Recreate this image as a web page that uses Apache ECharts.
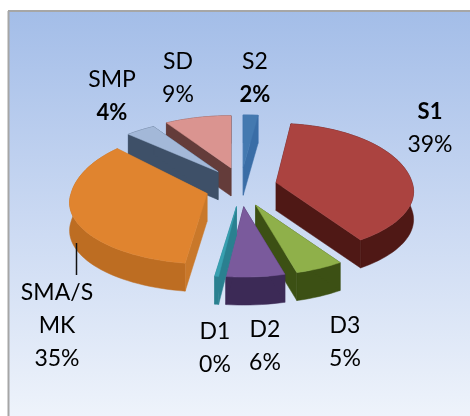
<!DOCTYPE html>
<html><head><meta charset="utf-8">
<style>html,body{margin:0;padding:0;background:#fff}#c{width:470px;height:416px;filter:blur(0.65px)}</style>
<script src="https://cdn.jsdelivr.net/npm/echarts@6/dist/echarts.min.js"></script>
</head><body><div id="c"></div>
<script>
const categories = ['S2','S1','D3','D2','D1','SMA/SMK','SMP','SD'];
const values = [2,39,5,6,0.4,35,4,9];
const topColors = ['#4479b0','#ab4340','#8fb04a','#7a5a9c','#38a0b0','#e0842f','#a3b8d8','#da9490'];
const wallColors = ['#3a6da6','#4f1815','#3c5014','#3c2a56','#2a8090','#bd6d22','#3e5068','#643c3a'];
const cutColors = ['#3a6da6','#4f1815','#3c5014','#3c2a56','#2a8090','#c9782a','#3e5068','#643c3a'];
const farStretch = [1,1.13,1,1,1,1.2,1,1];
const drawOrder = [7,0,6,1,2,5,3,4];
const labelAnchors = [[255,78],[430,128],[345,342],[265,346],[215,348],[57,326],[112,96],[178,78]];
const boldParts = {S1:'n',SMP:'p',S2:'p'};

const CX=241, CY=187, RX=136, RY=60, P=0.147, DEPTH=28, EXPLODE=36, KY=0.55;
const total = values.reduce((a,b)=>a+b,0);
let acc=0;
const sweep = values.map(v=>{const s=acc/total*2*Math.PI; acc+=v; return [s,acc/total*2*Math.PI];});
function rim(a,i){const s=Math.sin(a),c=-Math.cos(a),w=1-P*c;return [RX*s/w,RY*c/w*(c<0?farStretch[i]:1)];}

function renderItem(params, api){
  const i=api.value(0), a0=sweep[i][0], a1=sweep[i][1], mid=(a0+a1)/2;
  const ax=CX+EXPLODE*Math.sin(mid), ay=CY-EXPLODE*KY*Math.cos(mid);
  const apex=[ax,ay], arc=[];
  const n=Math.max(2,Math.ceil((a1-a0)/0.04));
  for(let k=0;k<=n;k++){const r=rim(a0+(a1-a0)*k/n,i);arc.push([ax+r[0],ay+r[1]]);}
  const down=p=>[p[0],p[1]+DEPTH];
  const poly=(points,c)=>({type:'polygon',shape:{points},style:{fill:c,stroke:c,lineWidth:0.5}});
  const first=arc[0], last=arc[arc.length-1];
  return {type:'group',children:[
    poly(arc.concat(arc.map(down).reverse()),wallColors[i]),
    poly([apex,first,down(first),down(apex)],cutColors[i]),
    poly([apex,last,down(last),down(apex)],cutColors[i]),
    poly([apex].concat(arc),topColors[i])
  ]};
}
function labelItem(params, api){
  const i=api.value(0), name=categories[i], pct=Math.round(values[i]/total*100)+'%';
  const nm=name.length>5?name.slice(0,5)+'\n'+name.slice(5):name;
  const b=boldParts[name];
  return {type:'text',style:{x:labelAnchors[i][0],y:labelAnchors[i][1],align:'center',verticalAlign:'middle',
    text:nm.split('\n').map(t=>'{'+(b==='n'?'b':'r')+'|'+t+'}').join('\n')+'\n{'+(b==='p'?'b':'r')+'|'+pct+'}',
    rich:{r:{fontFamily:'Lato',fontSize:23,fontWeight:'normal',fill:'#000',lineHeight:33},
          b:{fontFamily:'Lato',fontSize:22,fontWeight:'bold',fill:'#000',lineHeight:33}}}};
}
const chart=echarts.init(document.getElementById('c'),null,{renderer:'canvas'});
chart.setOption({
  animation:false,
  graphic:[
    {type:'rect',z:-10,shape:{x:8,y:10,width:462,height:406},style:{fill:{type:'linear',x:0,y:0,x2:0,y2:1,colorStops:[{offset:0,color:'#a3bde8'},{offset:0.5,color:'#c9d8f2'},{offset:1,color:'#eef3fb'}]}}},
    {type:'line',z:-9,shape:{x1:8.5,y1:11,x2:8.5,y2:416},style:{stroke:'#a6a6a6',lineWidth:2}},
    {type:'line',z:-9,shape:{x1:8,y1:11,x2:470,y2:11},style:{stroke:'#a6a6a6',lineWidth:2}},
    {type:'line',z:20,shape:{x1:76.5,y1:243,x2:76.5,y2:275},style:{stroke:'#111',lineWidth:1.5}}
  ],
  series:[
    {type:'custom',coordinateSystem:'none',silent:true,z:5,renderItem,data:drawOrder.map(i=>[i])},
    {type:'custom',coordinateSystem:'none',silent:true,z:6,renderItem:labelItem,data:categories.map((c,i)=>[i])}
  ]
});
</script></body></html>
